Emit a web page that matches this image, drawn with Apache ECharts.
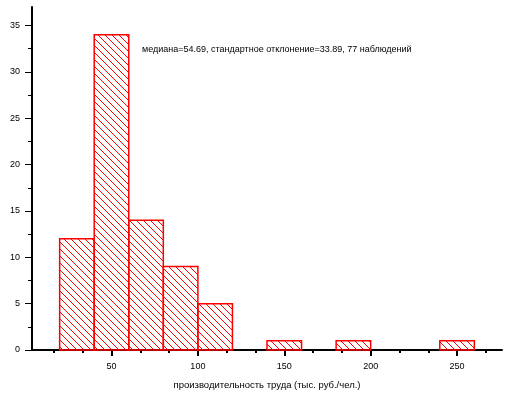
<!DOCTYPE html>
<html>
<head>
<meta charset="utf-8">
<script src="https://cdn.jsdelivr.net/npm/echarts@6/dist/echarts.min.js"></script>
<style>
html,body{margin:0;padding:0;background:#fff;}
#chart{width:513px;height:393px;}
</style>
</head>
<body>
<div id="chart"></div>
<script>
// Data
const binStart = [20, 40, 60, 80, 100, 120, 140, 160, 180, 200, 220, 240];
const binEnd   = [40, 60, 80, 100, 120, 140, 160, 180, 200, 220, 240, 260];
const counts   = [12, 34, 14, 9, 5, 0, 1, 0, 1, 0, 0, 1];
const xMajorTicks = [50, 100, 150, 200, 250];
const xMinorTicks = [16.67, 33.33, 66.67, 83.33, 116.67, 133.33, 166.67, 183.33, 216.67, 233.33, 266.67];
const yMajorTicks = [0, 5, 10, 15, 20, 25, 30, 35];
const yMinorTicks = [2.5, 7.5, 12.5, 17.5, 22.5, 27.5, 32.5];
const xName = 'производительность труда (тыс. руб./чел.)';
const note = 'медиана=54.69, стандартное отклонение=33.89, 77 наблюдений';

// hatch pattern
const P = 7;
const pc = document.createElement('canvas');
pc.width = P; pc.height = P;
const pctx = pc.getContext('2d');
pctx.fillStyle = '#ff0000';
for (let i = 0; i < P; i++) pctx.fillRect(i, i, 1, 1);
const hatch = { image: pc, repeat: 'repeat' };

const seriesData = binStart.map((s, i) => [s, binEnd[i], counts[i]]);

const FONT = '"Liberation Sans", Arial, sans-serif';
const chart = echarts.init(document.getElementById('chart'), null, { renderer: 'canvas' });
const xRange = { min: 4, max: 276 };
const yRange = { min: 0, max: 37 };
chart.setOption({
  animation: false,
  backgroundColor: '#fff',
  grid: { left: 32, right: 11, top: 7, bottom: 43, outerBoundsMode: 'none', containLabel: false },
  xAxis: [
    {
      type: 'value', position: 'bottom', ...xRange,
      axisLine: { show: true, onZero: false, lineStyle: { color: '#000', width: 2 } },
      axisTick: { show: true, length: 6, lineStyle: { color: '#000', width: 2 }, customValues: xMajorTicks },
      axisLabel: { customValues: xMajorTicks, color: '#000', fontSize: 9, fontFamily: FONT, margin: 12 },
      splitLine: { show: false },
      name: xName, nameLocation: 'middle', nameGap: 30,
      nameTextStyle: { color: '#000', fontSize: 9.5, fontFamily: FONT }
    },
    {
      type: 'value', position: 'bottom', offset: 0, ...xRange,
      axisLine: { show: false, onZero: false },
      axisTick: { show: true, length: 3, lineStyle: { color: '#000', width: 2 }, customValues: xMinorTicks },
      axisLabel: { show: false },
      splitLine: { show: false }
    }
  ],
  yAxis: [
    {
      type: 'value', position: 'left', ...yRange,
      axisLine: { show: true, onZero: false, lineStyle: { color: '#000', width: 2 } },
      axisTick: { show: true, length: 7, lineStyle: { color: '#000', width: 1 }, customValues: yMajorTicks },
      axisLabel: { customValues: yMajorTicks, color: '#000', fontSize: 9, fontFamily: FONT, margin: 12 },
      splitLine: { show: false }
    },
    {
      type: 'value', position: 'left', offset: 0, ...yRange,
      axisLine: { show: false, onZero: false },
      axisTick: { show: true, length: 4, lineStyle: { color: '#000', width: 1 }, customValues: yMinorTicks },
      axisLabel: { show: false },
      splitLine: { show: false }
    }
  ],
  series: [{
    type: 'custom',
    xAxisIndex: 0, yAxisIndex: 0,
    data: seriesData,
    encode: { x: [0, 1], y: 2 },
    renderItem: function (params, api) {
      const y = api.value(2);
      if (!y) return null;
      const p0 = api.coord([api.value(0), y]);
      const p1 = api.coord([api.value(1), 0]);
      return {
        type: 'rect',
        shape: { x: p0[0], y: p0[1], width: p1[0] - p0[0], height: p1[1] - p0[1] },
        style: { fill: hatch, stroke: '#ff0000', lineWidth: 1.5 }
      };
    }
  }],
  graphic: [{
    type: 'text', left: 142, top: 45,
    style: { text: note, font: '9px ' + FONT, fill: '#000' }
  }]
});
</script>
</body>
</html>
